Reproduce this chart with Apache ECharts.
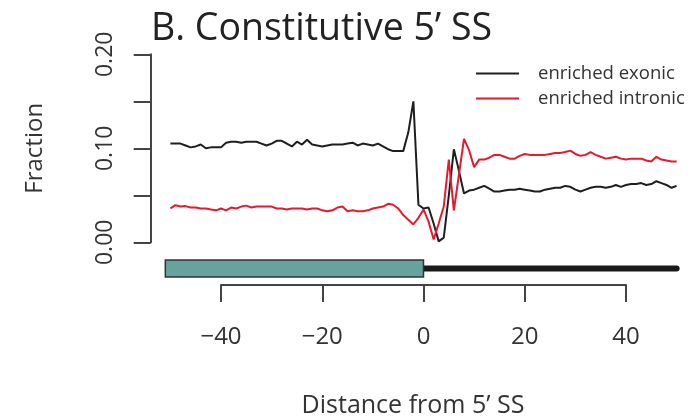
<!DOCTYPE html>
<html><head><meta charset="utf-8">
<script src="https://cdn.jsdelivr.net/npm/echarts@6/dist/echarts.min.js"></script>
<style>html,body{margin:0;padding:0;background:#fff}#c{width:698px;height:418px}</style>
</head><body><div id="c"></div>
<script>
const positions = [-50,-49,-48,-47,-46,-45,-44,-43,-42,-41,-40,-39,-38,-37,-36,-35,-34,-33,-32,-31,-30,-29,-28,-27,-26,-25,-24,-23,-22,-21,-20,-19,-18,-17,-16,-15,-14,-13,-12,-11,-10,-9,-8,-7,-6,-5,-4,-3,-2,-1,0,1,2,3,4,5,6,7,8,9,10,11,12,13,14,15,16,17,18,19,20,21,22,23,24,25,26,27,28,29,30,31,32,33,34,35,36,37,38,39,40,41,42,43,44,45,46,47,48,49,50];
const exonic = [
0.105,0.105,0.105,0.103,0.101,0.102,0.104,0.100,0.101,0.101,
0.101,0.106,0.107,0.107,0.106,0.107,0.107,0.107,0.105,0.103,
0.105,0.108,0.108,0.105,0.102,0.107,0.104,0.109,0.104,0.103,
0.102,0.103,0.104,0.104,0.104,0.105,0.106,0.103,0.105,0.104,
0.103,0.105,0.102,0.099,0.097,
0.097,0.097,0.117,0.150,0.040,0.036,0.037,0.020,0.001,0.005,0.050,
0.099,0.076,
0.052,0.055,0.056,0.058,0.060,0.057,0.054,0.054,0.055,0.056,
0.056,0.057,0.056,0.055,0.054,0.054,0.056,0.057,0.058,0.058,
0.060,0.059,0.056,0.054,0.056,0.058,0.059,0.059,0.058,0.059,
0.061,0.059,0.061,0.062,0.062,0.063,0.061,0.062,0.065,0.063,
0.061,0.058,0.060];
const intronic = [
0.036,0.0395,0.038,0.0385,0.037,0.037,0.036,0.036,0.035,0.034,
0.036,0.034,0.037,0.036,0.038,0.039,0.037,0.038,0.038,0.038,
0.038,0.036,0.036,0.035,0.036,0.036,0.036,0.035,0.036,0.036,
0.034,0.033,0.034,0.037,0.038,0.033,0.034,0.033,0.033,0.034,
0.036,0.037,0.038,0.041,0.040,0.036,0.029,0.024,0.019,0.026,
0.035,0.022,0.003,0.020,0.038,0.088,0.034,0.072,
0.110,0.098,0.080,0.088,0.088,0.090,0.093,0.093,0.091,0.089,
0.089,0.092,0.094,0.093,0.093,0.093,0.093,0.094,0.095,0.095,
0.096,0.0975,0.094,0.092,0.093,0.096,0.093,0.091,0.089,0.090,
0.091,0.089,0.088,0.089,0.089,0.089,0.087,0.086,0.091,0.088,
0.087,0.086,0.086];
const seriesNames = ['enriched exonic','enriched intronic'];
const yTickLabels = ['0.00','0.10','0.20'];
const geneParts = [['intron',0,50],['exon',-51,0]];

const FONT = 'Open Sans';
const AX = '#444';
const chart = echarts.init(document.getElementById('c'), null, {renderer:'canvas'});
chart.setOption({
  animation:false,
  backgroundColor:'#fff',
  title:[
    {text:'B. Constitutive 5\u2019 SS', left:151, top:10, padding:0,
     textStyle:{fontFamily:FONT, fontSize:37.5, fontWeight:'normal', color:'#222'}},
    {text:'Distance from 5\u2019 SS', left:413, textAlign:'center', top:393, padding:0,
     textStyle:{fontFamily:FONT, fontSize:25, fontWeight:'normal', color:'#333'}}
  ],
  legend:{data:seriesNames, orient:'vertical', left:476, top:61, padding:0, itemWidth:43, itemHeight:2, itemGap:0,
    icon:'rect', textStyle:{fontFamily:FONT, fontSize:18.5, color:'#333', lineHeight:25, padding:[0,0,0,14]}},
  grid:[
    {left:160.25, width:526.5, top:54.3, height:188},
    {left:221, width:405, top:250, height:35},
    {left:160.25, width:526.5, top:260, height:17}
  ],
  xAxis:[
    {gridIndex:0, type:'value', min:-52, max:52, show:false},
    {gridIndex:1, type:'value', min:-40, max:40, interval:20,
      axisLine:{show:true, onZero:false, lineStyle:{color:AX, width:2}},
      axisTick:{show:true, length:17, lineStyle:{color:AX, width:2}},
      splitLine:{show:false},
      axisLabel:{margin:40, fontFamily:FONT, fontSize:24, color:'#333',
        formatter:v=>v<0?'\u2212'+(-v):''+v}},
    {gridIndex:2, type:'value', min:-52, max:52, show:false}
  ],
  yAxis:[
    {gridIndex:0, type:'value', min:0, max:0.2, interval:0.05, offset:9.55,
      axisLine:{show:true, onZero:false, lineStyle:{color:AX, width:2}},
      axisTick:{show:true, length:17, lineStyle:{color:AX, width:2}},
      splitLine:{show:false},
      axisLabel:{rotate:90, margin:34, fontFamily:FONT, fontSize:23, color:'#333',
        formatter:v=>{const k=Math.round(v*100); return k%10===0?yTickLabels[k/10]:'';}},
      name:'Fraction', nameLocation:'middle', nameRotate:90, nameGap:104,
      nameTextStyle:{fontFamily:FONT, fontSize:24, color:'#333'}},
    {gridIndex:1, type:'value', show:false},
    {gridIndex:2, type:'value', min:0, max:1, show:false}
  ],
  series:[
    {name:seriesNames[0], type:'line', xAxisIndex:0, yAxisIndex:0, symbol:'none',
      data:positions.map((p,i)=>[p,exonic[i]]), color:'#1e1e1e', lineStyle:{color:'#1e1e1e', width:2}},
    {name:seriesNames[1], type:'line', xAxisIndex:0, yAxisIndex:0, symbol:'none',
      data:positions.map((p,i)=>[p,intronic[i]]), color:'#e8192c', lineStyle:{color:'#e8192c', width:2}},
    {type:'custom', xAxisIndex:2, yAxisIndex:2, silent:true,
      data:geneParts.map(g=>[g[1],g[2],g[0]==='exon'?1:0]),
      renderItem:(params, api)=>{
        const s=api.coord([api.value(0),0.5]);
        const e=api.coord([api.value(1),0.5]);
        if(api.value(2)===1){
          const top=api.coord([0,1])[1], bot=api.coord([0,0])[1];
          return {type:'rect', shape:{x:s[0], y:top, width:e[0]-s[0], height:bot-top},
            style:{fill:'#66a29e', stroke:'#333', lineWidth:1.5}};
        }
        return {type:'line', shape:{x1:s[0], y1:s[1], x2:e[0], y2:s[1]},
          style:{stroke:'#1a1a1a', lineWidth:6, lineCap:'round'}};
      }}
  ]
});
</script></body></html>
